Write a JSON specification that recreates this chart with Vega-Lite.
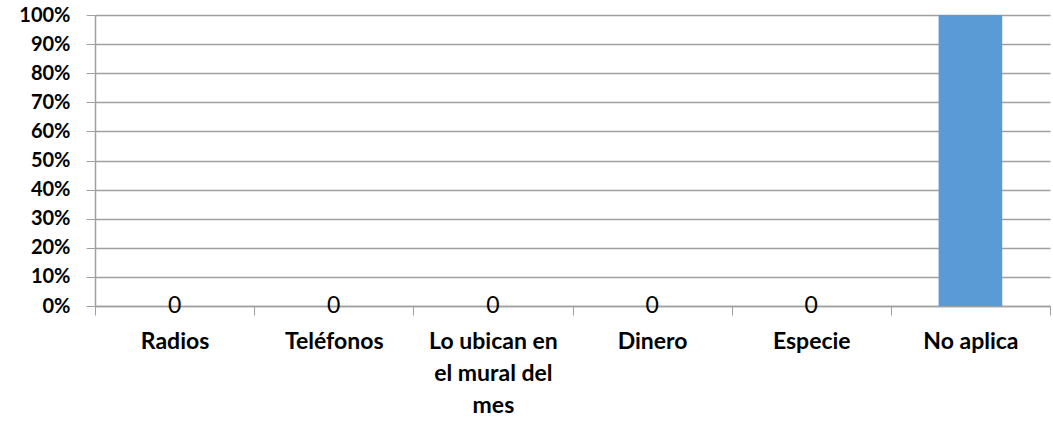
{
  "$schema": "https://vega.github.io/schema/vega-lite/v6.json",
  "width": 955,
  "height": 291,
  "autosize": {"type": "none"},
  "padding": {"left": 95, "top": 15, "right": 3, "bottom": 117},
  "background": "white",
  "config": {
    "view": {"stroke": null},
    "font": "Lato"
  },
  "data": {
    "values": [
      {"categoria": "Radios", "valor": 0},
      {"categoria": "Teléfonos", "valor": 0},
      {"categoria": "Lo ubican en el mural del mes", "valor": 0},
      {"categoria": "Dinero", "valor": 0},
      {"categoria": "Especie", "valor": 0},
      {"categoria": "No aplica", "valor": 1}
    ]
  },
  "encoding": {
    "x": {
      "field": "categoria",
      "type": "nominal",
      "sort": null,
      "scale": {"paddingInner": 0, "paddingOuter": 0},
      "axis": {
        "title": null,
        "labelAngle": 0,
        "labelFont": "Lato",
        "labelFontWeight": "bold",
        "labelFontSize": 23,
        "labelColor": "#000000",
        "labelPadding": 15,
        "labelLineHeight": 32,
        "labelBaseline": "top",
        "labelExpr": "datum.label == 'Lo ubican en el mural del mes' ? ['Lo ubican en', 'el mural del', 'mes'] : datum.label",
        "tickBand": "extent",
        "tickSize": 9,
        "tickColor": "#a0a0a0",
        "domainColor": "#a0a0a0",
        "domainWidth": 1.5,
        "grid": false
      }
    },
    "y": {
      "field": "valor",
      "type": "quantitative",
      "scale": {"domain": [0, 1], "nice": false},
      "axis": {
        "title": null,
        "values": [0, 0.1, 0.2, 0.3, 0.4, 0.5, 0.6, 0.7, 0.8, 0.9, 1],
        "format": ".0%",
        "labelFont": "Lato",
        "labelFontWeight": "bold",
        "labelFontSize": 20,
        "labelColor": "#000000",
        "labelPadding": 16,
        "tickSize": 9,
        "tickColor": "#a0a0a0",
        "domainColor": "#a0a0a0",
        "domainWidth": 1.5,
        "gridColor": "#a0a0a0",
        "gridWidth": 1.5
      }
    }
  },
  "layer": [
    {
      "mark": {"type": "bar", "color": "#5b9bd5", "width": {"band": 0.4}}
    },
    {
      "transform": [{"filter": "datum.valor < 1"}],
      "mark": {
        "type": "text",
        "font": "Lato",
        "fontSize": 23,
        "color": "#000000",
        "baseline": "middle",
        "align": "center"
      },
      "encoding": {
        "text": {"field": "valor", "type": "quantitative"}
      }
    }
  ]
}
